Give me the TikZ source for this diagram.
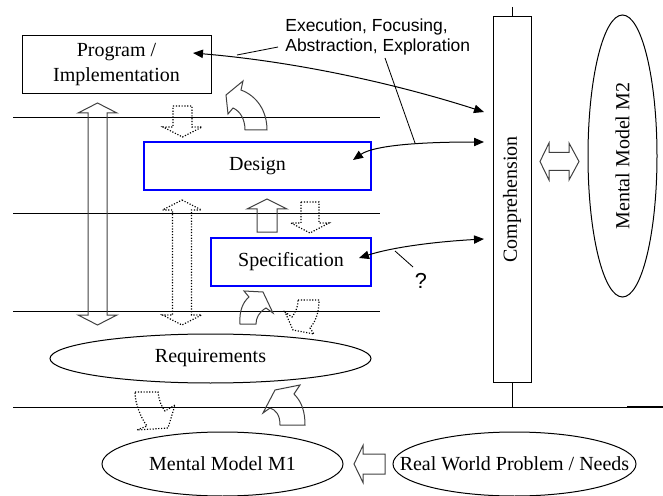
\documentclass[tikz,border=0pt]{standalone}
\usepackage{fontspec}
\setmainfont{Liberation Serif}
\setsansfont{Liberation Sans}
\usetikzlibrary{arrows.meta,shapes.geometric}

% one drawing unit = 0.6pt
\newcommand{\pxu}{0.6pt}

% straight block arrow along y: style, centre x, tail y, head-base y, tip y, shaft half-width
\newcommand{\vblockarrow}[6]{%
  \draw[#1] (#2-#6,#3) -- (#2+#6,#3) -- (#2+#6,#4) -- (#2+#6+10,#4) -- (#2,#5)
            -- (#2-#6-10,#4) -- (#2-#6,#4) -- cycle;}
% double-headed block arrow along y: style, centre x, tip 1, head-base 1, head-base 2, tip 2
\newcommand{\vdoublearrow}[6]{%
  \draw[#1] (#2,#3) -- (#2+19.5,#4) -- (#2+9.5,#4) -- (#2+9.5,#5) -- (#2+19.5,#5) -- (#2,#6)
            -- (#2-19.5,#5) -- (#2-9.5,#5) -- (#2-9.5,#4) -- (#2-19.5,#4) -- cycle;}

\tikzset{
  lbl/.style={font=\fontsize{12}{15}\selectfont},
  plainbox/.style={draw, line width=0.6pt, inner sep=0pt, lbl},
  bluebox/.style={draw=blue, line width=0.7pt, inner sep=0pt, lbl},
  oval/.style={ellipse, draw, line width=0.6pt, inner sep=0pt, lbl},
  level/.style={line width=0.6pt},
  solidblk/.style={draw=black!75, line width=0.6pt},
  dotblk/.style={draw, densely dotted, line width=0.7pt},
  link/.style={line width=0.6pt,
    {Triangle[length=6pt,width=5pt]}-{Triangle[length=6pt,width=5pt]}},
  leader/.style={line width=0.5pt},
  tagfont/.style={font=\sffamily\fontsize{10.5}{12}\selectfont},
}

\begin{document}
\begin{tikzpicture}[x=0.6pt,y=-0.6pt]
\useasboundingbox (0,0) rectangle (663,496);

% level lines
\draw[level] (13,118) -- (380,118);
\draw[level] (13,214) -- (380,214);
\draw[level] (13,311) -- (380,311);
\draw[level] (13,407) -- (627,407);
\draw[line width=1.2pt] (627,407) -- (663,407);

% main boxes and ovals
\node[plainbox, minimum width=189*\pxu, minimum height=58*\pxu, align=center]
  (prog) at (116.5,65) {Program /\\Implementation};
\node[bluebox, minimum width=227*\pxu, minimum height=48*\pxu] (design) at (257.5,166) {Design};
\node[bluebox, minimum width=160*\pxu, minimum height=48*\pxu] (spec) at (291,262) {Specification};
\node[oval, minimum width=321*\pxu, minimum height=49*\pxu] (req) at (210.5,358.5) {Requirements};
\node[oval, minimum width=241*\pxu, minimum height=64*\pxu] (mmone) at (222.5,464) {Mental Model M1};
% the wide caption nearly fills this oval, so the text is set on its own
\node[oval, minimum width=243*\pxu, minimum height=64*\pxu] (world) at (514.5,464) {};
\node[lbl, inner sep=0pt] (worldtext) at (world.center) {Real World Problem / Needs};
\node[plainbox, rotate=90, minimum width=365*\pxu, minimum height=38*\pxu] (comp) at (512,199.5) {Comprehension};
\node[oval, rotate=90, minimum width=282*\pxu, minimum height=69*\pxu] (mmtwo) at (622.5,156) {Mental Model M2};

% stubs above and below the comprehension bar
\coordinate (stubtop) at (512,7);
\coordinate (stubbot) at (512,407);
\draw[level] (stubtop) -- (comp.east);
\draw[level] (comp.west) -- (stubbot);

% straight block arrows between levels
\vdoublearrow{solidblk}{97.5}{103}{113}{315}{325}
\vdoublearrow{dotblk}{182}{200}{210}{315}{325}
\vblockarrow{dotblk}{182.5}{106}{127}{137}{9.5}
\vblockarrow{solidblk}{267}{232}{209}{199}{10}
\vblockarrow{dotblk}{310}{202}{223}{233}{9}

% curved block arrows
\draw[solidblk] (245,130) .. controls (245,119) and (240,111) .. (233,108) -- (228,114) -- (226,95)
  -- (243,81) -- (241,90) .. controls (257,96) and (267,111) .. (267,130) -- cycle;
\draw[solidblk] (240,324) .. controls (239,311) and (243,302) .. (249,297) -- (244,291) -- (263,292)
  -- (273,313) -- (266,308) .. controls (259,312) and (256,318) .. (256,324) -- cycle;
\draw[dotblk] (298,300) -- (319,300) .. controls (319,310) and (317,320) .. (310,328) -- (314,334)
  -- (293,330) -- (285,312) -- (292,317) .. controls (296,312) and (298,306) .. (298,300) -- cycle;
\draw[dotblk] (135,392) -- (158,392) .. controls (159,400) and (161,406) .. (165,411) -- (175,405)
  -- (168,428) -- (137,430) -- (147,426) .. controls (141,418) and (135,404) .. (135,392) -- cycle;
\draw[solidblk] (280,425) .. controls (280,415) and (276,410) .. (270,408) -- (263,413) -- (275,390)
  -- (300,385) -- (294,394) .. controls (302,402) and (305,412) .. (305,425) -- cycle;

% block arrows towards the mental models
\draw[solidblk] (540,161.5) -- (549,143) -- (549,152.5) -- (569,152.5) -- (569,143) -- (579,161.5)
  -- (569,180) -- (569,170.5) -- (549,170.5) -- (549,180) -- cycle;
\draw[solidblk] (354,464) -- (363,445.5) -- (363,454) -- (385,454) -- (385,474) -- (363,474)
  -- (363,482.5) -- cycle;

% comprehension links
\coordinate (progend) at (193,53);
\coordinate (compa) at (484,112);
\coordinate (designend) at (353,160);
\coordinate (compb) at (484,142);
\coordinate (specend) at (359,258);
\coordinate (compc) at (484,239);
\draw[link] (progend) .. controls (300,62) and (400,85) .. (compa);
\draw[link] (designend) .. controls (370,148) and (400,142) .. (compb);
\draw[link] (specend) .. controls (390,248) and (430,242) .. (compc);

% annotations
\node[tagfont, align=left, anchor=west, inner sep=0pt] (tags) at (285,37)
  {Execution, Focusing,\\Abstraction, Exploration};
\node[font=\sffamily\fontsize{13}{15}\selectfont, inner sep=0pt] (qm) at (421,281) {?};
\coordinate (taga) at (278,47);
\coordinate (meeta) at (237,55);
\coordinate (tagb) at (385,58);
\coordinate (meetb) at (415,143);
\coordinate (qtail) at (413,267);
\coordinate (meetc) at (395,251);
\draw[leader] (taga) -- (meeta);
\draw[leader] (tagb) -- (meetb);
\draw[leader] (qtail) -- (meetc);
\end{tikzpicture}
\end{document}
